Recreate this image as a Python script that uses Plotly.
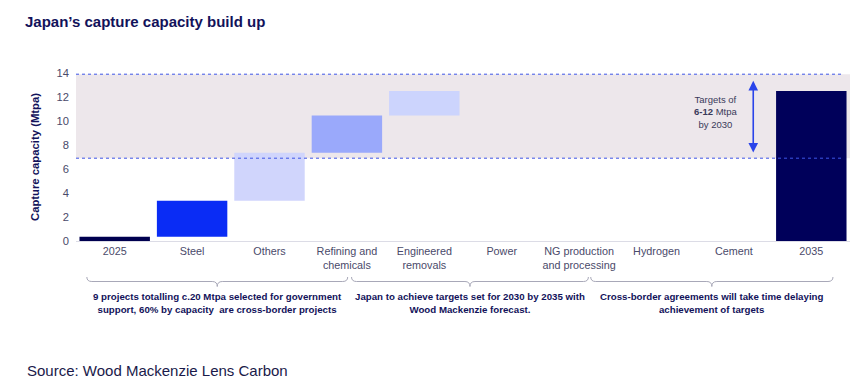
import plotly.graph_objects as go

# ---- data ----
categories = ["2025", "Steel", "Others", "Refining and chemicals", "Engineered removals",
              "Power", "NG production and processing", "Hydrogen", "Cement", "2035"]
tick_labels = ["2025", "Steel", "Others", "Refining and<br>chemicals", "Engineered<br>removals",
               "Power", "NG production<br>and processing", "Hydrogen", "Cement", "2035"]
increments = [0.35, 3.0, 4.0, 3.1, 2.05, None, None, None, None, None]
total_2035 = 12.5
bar_colors = ["#00004f", "#0a2cf5", "#d0d5fc", "#9aa9fb", "#ccd4fd",
              "#ffffff", "#ffffff", "#ffffff", "#ffffff", "#00005a"]
target_low, target_high = 6.9, 13.9

brace_spans = [(-0.36, 3.01), (3.06, 6.12), (6.15, 9.28)]
brace_texts = [
    "9 projects totalling c.20 Mtpa selected for government<br>support, 60% by capacity  are cross-border projects",
    "Japan to achieve targets set for 2030 by 2035 with<br>Wood Mackenzie forecast.",
    "Cross-border agreements will take time delaying<br>achievement of targets",
]

# waterfall bases/values
x_idx = list(range(len(categories)))
bases, values = [], []
run = 0.0
for i, inc in enumerate(increments):
    if i == len(categories) - 1:
        bases.append(0)
        values.append(total_2035)
    elif inc is None:
        bases.append(None)
        values.append(None)
    else:
        bases.append(run)
        values.append(inc)
        run += inc

NAVY = "#12125a"
TICK = "#4a4a6a"
FONT = "Liberation Sans, Arial, sans-serif"

# page has an 8px body margin; compensate
OFF = 8
W, H = 864 - OFF, 388 - OFF

fig = go.Figure()
fig.add_trace(go.Bar(
    x=x_idx, y=values, base=bases,
    marker=dict(color=bar_colors, line=dict(width=0)),
    width=0.91, hoverinfo="skip", showlegend=False,
))

X_MIN, X_MAX = -0.5, len(categories) - 0.5


def xp(x):
    return (x - X_MIN) / (X_MAX - X_MIN)


shapes = [
    dict(type="rect", xref="paper", yref="y", x0=0, x1=1, y0=target_low, y1=target_high,
         fillcolor="#ede7eb", line=dict(width=0), layer="below"),
    dict(type="line", xref="paper", yref="y", x0=0, x1=0.992, y0=target_high, y1=target_high,
         line=dict(color="#3d55e6", width=1, dash="dot"), layer="above"),
    dict(type="line", xref="paper", yref="y", x0=0, x1=0.992, y0=target_low, y1=target_low,
         line=dict(color="#3d55e6", width=1, dash="dot"), layer="above"),
]

# braces (paper coords)
PLOT_H = 168.0
def yp(py):
    return (241 - py) / PLOT_H

y_end, y_mid, y_tip = yp(277), yp(281.5), yp(286.5)
rx = 5 / 773.7
annotations = []
for (a, b), txt in zip(brace_spans, brace_texts):
    x0, x1 = xp(a), xp(b)
    xc = (x0 + x1) / 2
    path = (f"M {x0},{y_end} Q {x0},{y_mid} {x0+rx},{y_mid} "
            f"L {xc-rx},{y_mid} Q {xc},{y_mid} {xc},{y_tip} "
            f"Q {xc},{y_mid} {xc+rx},{y_mid} "
            f"L {x1-rx},{y_mid} Q {x1},{y_mid} {x1},{y_end}")
    shapes.append(dict(type="path", xref="paper", yref="paper", path=path,
                       line=dict(color="#a8a8b8", width=1)))
    annotations.append(dict(x=(a + b) / 2, xref="x", y=yp(303), yref="paper",
                            text=f"<b>{txt}</b>", showarrow=False,
                            font=dict(family=FONT, size=9.7, color=NAVY),
                            xanchor="center", yanchor="middle", align="center"))

# target arrow and text
annotations.append(dict(x=8.25, y=13.35, xref="x", yref="y", ax=8.25, ay=7.25,
                        axref="x", ayref="y", text="", showarrow=True,
                        arrowhead=2, arrowside="end+start", arrowsize=1.2,
                        arrowwidth=1.6, arrowcolor="#2a44ea", standoff=0, startstandoff=0))
annotations.append(dict(x=7.76, y=10.75, xref="x", yref="y",
                        text="Targets of<br><b>6-12</b> Mtpa<br>by 2030", showarrow=False,
                        font=dict(family=FONT, size=9.5, color="#3a3a5a"), align="center"))

# source
annotations.append(dict(x=(25 - 76.3) / 773.7, y=yp(370), xref="paper", yref="paper",
                        text="Source: Wood Mackenzie Lens Carbon", showarrow=False,
                        xanchor="left", yanchor="middle",
                        font=dict(family=FONT, size=15, color="#1a1a4a")))

fig.update_layout(
    width=W, height=H,
    margin=dict(l=76 - OFF, r=14, t=73 - OFF, b=147),
    paper_bgcolor="white", plot_bgcolor="white",
    title=dict(text="<b>Japan’s capture capacity build up</b>", x=(25 - OFF) / W, xanchor="left",
               y=1 - (22 - OFF) / H, yanchor="middle",
               font=dict(family=FONT, size=15, color=NAVY)),
    xaxis=dict(range=[X_MIN, X_MAX], tickmode="array", tickvals=x_idx, ticktext=tick_labels,
               showgrid=False, zeroline=False, showline=True, linecolor="#dcdce6", linewidth=1,
               ticks="", tickfont=dict(family=FONT, size=10.8, color=TICK)),
    yaxis=dict(range=[0, 14], tickmode="array", tickvals=[0, 2, 4, 6, 8, 10, 12, 14],
               showgrid=False, zeroline=False, showline=False, ticks="",
               ticklabelstandoff=6,
               tickfont=dict(family=FONT, size=11.2, color=TICK),
               title=dict(text="<b>Capture capacity (Mtpa)</b>", standoff=14,
                          font=dict(family=FONT, size=11.3, color=NAVY))),
    shapes=shapes, annotations=annotations,
    bargap=0.09,
    font=dict(family=FONT),
)

fig.write_html("out.html")
